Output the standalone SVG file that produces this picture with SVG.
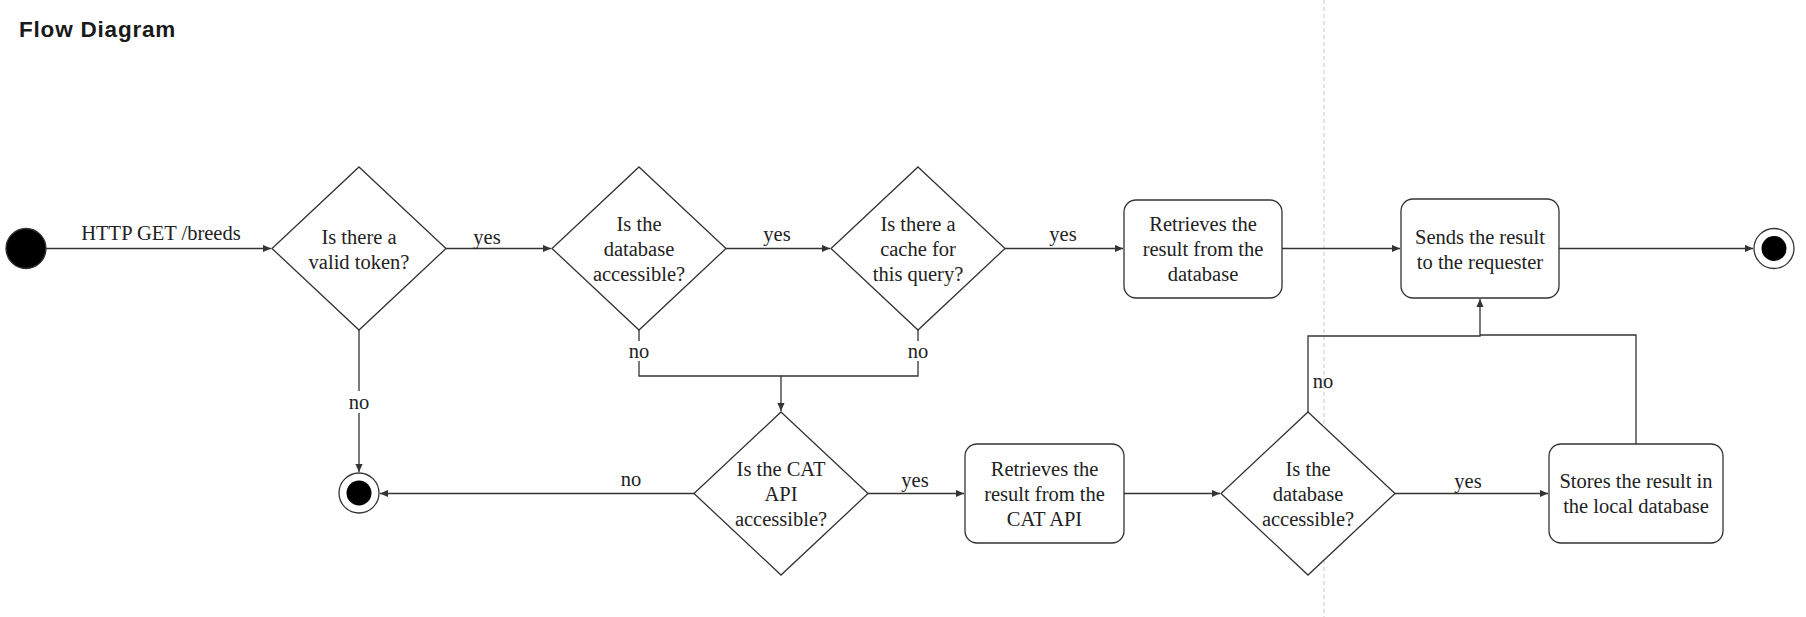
<svg xmlns="http://www.w3.org/2000/svg" width="1806" height="617" viewBox="0 0 1806 617">
<style>
.shape{fill:#fff;stroke:#333;stroke-width:1.3}
.edge{fill:none;stroke:#333;stroke-width:1.3}
.t{font-family:"Liberation Serif","Times New Roman",serif;font-size:20.5px;fill:#222;text-anchor:middle}
.lbl{font-family:"Liberation Serif","Times New Roman",serif;font-size:20.5px;fill:#222;text-anchor:middle}
.bg{fill:#fff;stroke:none}
</style>
<defs>
<marker id="arr" viewBox="0 0 10 10" refX="10" refY="5" markerWidth="8" markerHeight="8" markerUnits="userSpaceOnUse" orient="auto">
<path d="M0,0.5 L10,5 L0,9.5 Z" fill="#333"/>
</marker>
</defs>
<rect width="1806" height="617" fill="#fff"/>
<text x="19" y="37" font-family="'Liberation Sans',Arial,sans-serif" font-size="22.5" font-weight="bold" letter-spacing="0.8" fill="#1a1a1a">Flow Diagram</text>
<line x1="1324" y1="0" x2="1324" y2="617" stroke="#c8c8c8" stroke-width="1" stroke-dasharray="4,3"/>

<g id="connectors">
<path class="edge" d="M46,248.5 H271" marker-end="url(#arr)"/>
<path class="edge" d="M446,248.5 H551" marker-end="url(#arr)"/>
<path class="edge" d="M726,248.5 H830" marker-end="url(#arr)"/>
<path class="edge" d="M1005,248.5 H1123" marker-end="url(#arr)"/>
<path class="edge" d="M1282,248.5 H1400" marker-end="url(#arr)"/>
<path class="edge" d="M1559,248.5 H1753" marker-end="url(#arr)"/>
<path class="edge" d="M359,330 V472" marker-end="url(#arr)"/>
<path class="edge" d="M639,330 V376 H781 V411" marker-end="url(#arr)"/>
<path class="edge" d="M918,330 V376 H781"/>
<path class="edge" d="M694,493.5 H380" marker-end="url(#arr)"/>
<path class="edge" d="M868,493.5 H964" marker-end="url(#arr)"/>
<path class="edge" d="M1124,493.5 H1220" marker-end="url(#arr)"/>
<path class="edge" d="M1395,493.5 H1548" marker-end="url(#arr)"/>
<path class="edge" d="M1308,412 V336 H1480 V299" marker-end="url(#arr)"/>
<path class="edge" d="M1636,444 V335 H1480"/>
<text class="lbl" x="161" y="240">HTTP GET /breeds</text>
<text class="lbl" x="487" y="244">yes</text>
<text class="lbl" x="777" y="241">yes</text>
<text class="lbl" x="1063" y="241">yes</text>
<rect class="bg" x="345" y="391" width="28" height="22"/>
<text class="lbl" x="359" y="409">no</text>
<rect class="bg" x="625" y="341" width="28" height="20"/>
<text class="lbl" x="639" y="358">no</text>
<rect class="bg" x="904" y="341" width="28" height="20"/>
<text class="lbl" x="918" y="358">no</text>
<text class="lbl" x="631" y="486">no</text>
<text class="lbl" x="915" y="487">yes</text>
<text class="lbl" x="1323" y="388">no</text>
<text class="lbl" x="1468" y="488">yes</text>
</g>

<g id="start">
<circle cx="26" cy="248.5" r="20" fill="#000" stroke="#333" stroke-width="1.3"/>
</g>

<g id="d-token">
<polygon class="shape" points="359,167 446,248.5 359,330 272,248.5"/>
<text class="t" x="359" y="244">Is there a</text>
<text class="t" x="359" y="269">valid token?</text>
</g>

<g id="d-db1">
<polygon class="shape" points="639,167 726,248.5 639,330 552,248.5"/>
<text class="t" x="639" y="231">Is the</text>
<text class="t" x="639" y="256">database</text>
<text class="t" x="639" y="281">accessible?</text>
</g>

<g id="d-cache">
<polygon class="shape" points="918,167 1005,248.5 918,330 831,248.5"/>
<text class="t" x="918" y="231">Is there a</text>
<text class="t" x="918" y="256">cache for</text>
<text class="t" x="918" y="281">this query?</text>
</g>

<g id="b-db">
<rect class="shape" x="1124" y="200" width="158" height="98" rx="12"/>
<text class="t" x="1203" y="231">Retrieves the</text>
<text class="t" x="1203" y="256">result from the</text>
<text class="t" x="1203" y="281">database</text>
</g>

<g id="b-send">
<rect class="shape" x="1401" y="199" width="158" height="99" rx="12"/>
<text class="t" x="1480" y="244">Sends the result</text>
<text class="t" x="1480" y="269">to the requester</text>
</g>

<g id="end-right">
<circle cx="1774" cy="248.5" r="20" fill="#fff" stroke="#333" stroke-width="1.3"/>
<circle cx="1774" cy="248.5" r="12.5" fill="#000"/>
</g>

<g id="end-left">
<circle cx="359" cy="493" r="20" fill="#fff" stroke="#333" stroke-width="1.3"/>
<circle cx="359" cy="493" r="12.5" fill="#000"/>
</g>

<g id="d-cat">
<polygon class="shape" points="781,412 868,493.5 781,575 694,493.5"/>
<text class="t" x="781" y="476">Is the CAT</text>
<text class="t" x="781" y="501">API</text>
<text class="t" x="781" y="526">accessible?</text>
</g>

<g id="b-cat">
<rect class="shape" x="965" y="444" width="159" height="99" rx="12"/>
<text class="t" x="1044.5" y="476">Retrieves the</text>
<text class="t" x="1044.5" y="501">result from the</text>
<text class="t" x="1044.5" y="526">CAT API</text>
</g>

<g id="d-db2">
<polygon class="shape" points="1308,412 1395,493.5 1308,575 1221,493.5"/>
<text class="t" x="1308" y="476">Is the</text>
<text class="t" x="1308" y="501">database</text>
<text class="t" x="1308" y="526">accessible?</text>
</g>

<g id="b-store">
<rect class="shape" x="1549" y="444" width="174" height="99" rx="12"/>
<text class="t" x="1636" y="488">Stores the result in</text>
<text class="t" x="1636" y="513">the local database</text>
</g>
</svg>
